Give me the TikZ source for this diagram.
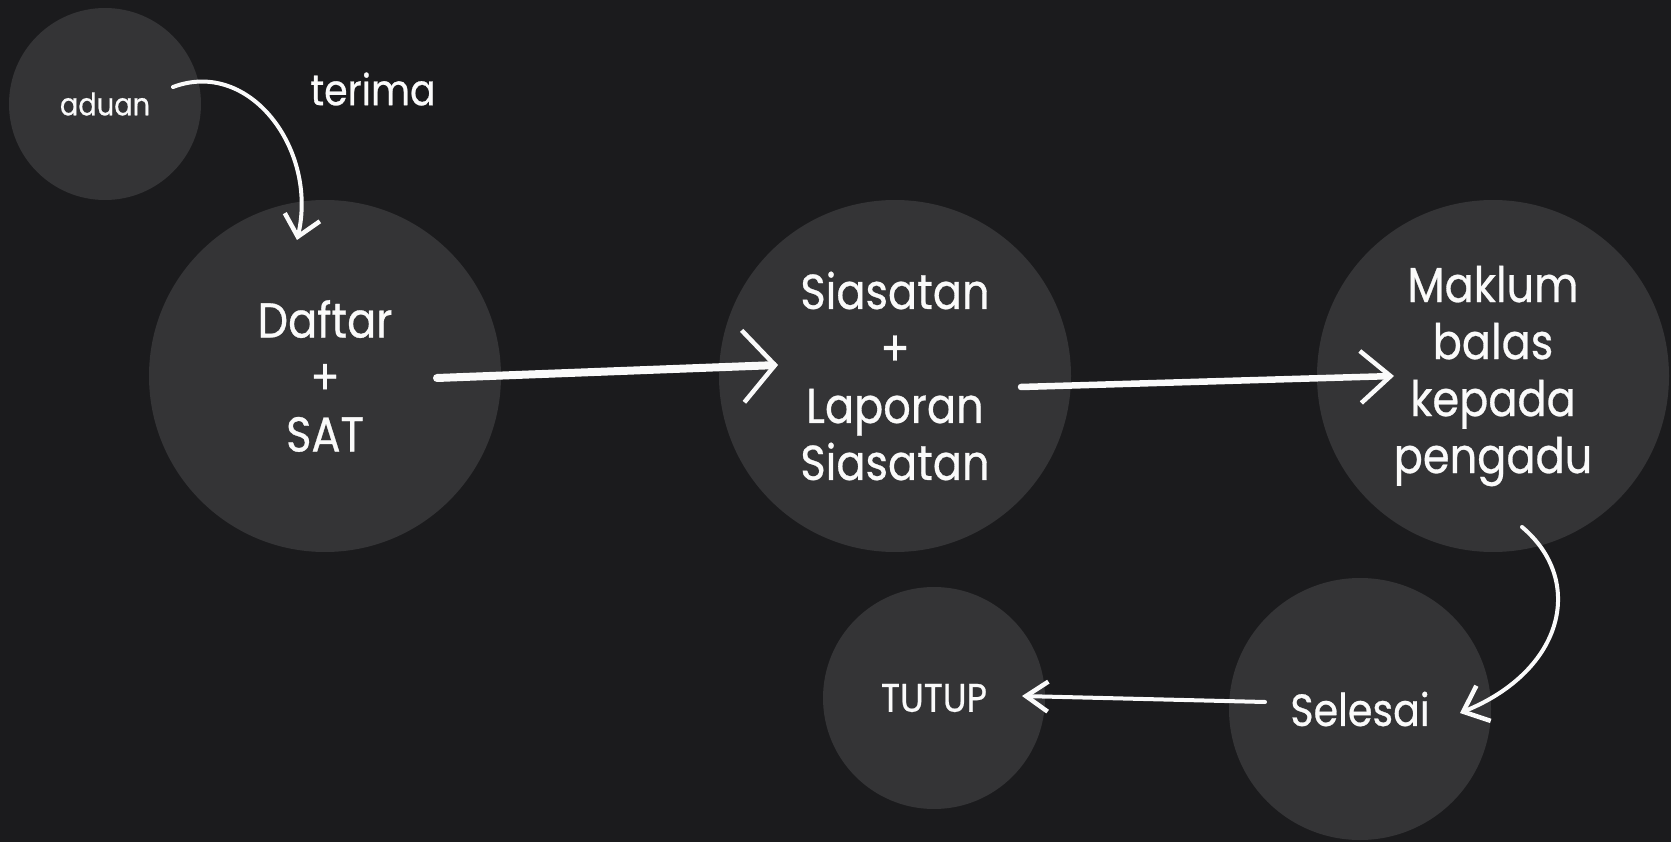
\documentclass[tikz,border=0pt]{standalone}
\usepackage{fontspec}
\setmainfont{Poppins}[FakeStretch=0.88, FakeBold=0.6]
\usetikzlibrary{arrows.meta,calc}
\definecolor{bgc}{RGB}{27,27,29}
\definecolor{discc}{RGB}{52,52,54}
\definecolor{chalkc}{RGB}{250,250,250}
\begin{document}
\begin{tikzpicture}[x=1pt,y=-1pt,
  disc/.style={circle, fill=discc, inner sep=0pt, minimum size=#1, text=chalkc, align=center},
  bigtext/.style={font=\fontsize{49}{57}\selectfont},
  midtext/.style={font=\fontsize{45}{52}\selectfont},
  smalltext/.style={font=\fontsize{40}{46}\selectfont},
  tinytext/.style={font=\fontsize{31}{36}\selectfont},
  chalkline/.style={draw=chalkc, line width=#1, line cap=round, line join=round},
  barb/.style n args={2}{-{Straight Barb[length=#1, width=#2, line width=4.5pt]}}
]
\fill[bgc] (0,0) rectangle (1671,842);
\useasboundingbox (0,0) rectangle (1671,842);

\node[disc=192pt, tinytext] (aduan) at (105,104) {aduan};
\node[disc=352pt, bigtext] (daftar) at (325,376) {Daftar\\+\\SAT};
\node[disc=352pt, bigtext] (siasatan) at (895,376) {Siasatan\\+\\Laporan\\Siasatan};
\node[disc=352pt, bigtext] (maklum) at (1493,376) {Maklum\\balas\\kepada\\pengadu};
\node[disc=262pt, midtext] (selesai) at (1360,709) {Selesai};
\node[disc=222pt, smalltext] (tutup) at (934,698) {TUTUP};
\node[text=chalkc, font=\fontsize{43}{48}\selectfont] (terima) at (373,89) {terima};

\draw[chalkline=4pt, barb={20pt}{36pt}]
  ([shift={(68,-17)}]aduan.center) .. controls (250,58) and (318,150) .. ([shift={(-28,-136)}]daftar.center);
\draw[chalkline=8pt, barb={32pt}{72pt}]
  ([shift={(112,2)}]daftar.center) -- ([shift={(-117,-11)}]siasatan.center);
\draw[chalkline=6.5pt, barb={30pt}{52pt}]
  ([shift={(126,11)}]siasatan.center) -- ([shift={(-99,0)}]maklum.center);
\draw[chalkline=4pt, barb={22pt}{38pt}]
  ([shift={(29,151)}]maklum.center) .. controls (1585,580) and (1565,670) .. ([shift={(100,4)}]selesai.center);
\draw[chalkline=4pt, barb={22pt}{30pt}]
  ([shift={(-95,-7)}]selesai.center) -- ([shift={(88,-2)}]tutup.center);
\end{tikzpicture}
\end{document}
